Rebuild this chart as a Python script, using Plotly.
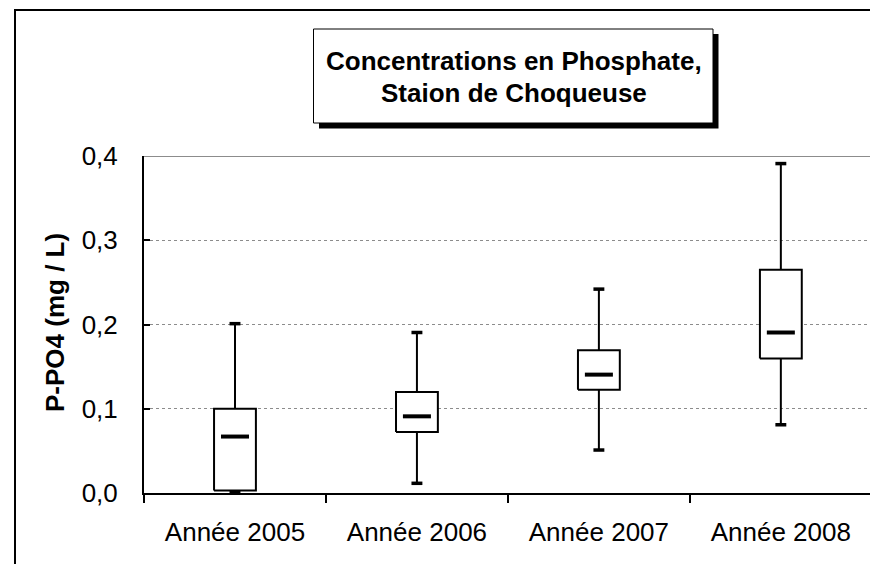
import plotly.graph_objects as go

# Phosphate concentrations (mg/L) per year, five-number summaries
years = ["Année 2005", "Année 2006", "Année 2007", "Année 2008"]
lower = [0.001, 0.0115, 0.051, 0.081]
q1 = [0.003, 0.0725, 0.1225, 0.1595]
median = [0.067, 0.091, 0.1405, 0.1905]
q3 = [0.100, 0.120, 0.1695, 0.265]
upper = [0.201, 0.1905, 0.242, 0.391]

y_ticks = [0.0, 0.1, 0.2, 0.3, 0.4]

W, H = 870, 564
ML, MR, MT, MB = 144, 0, 156, 71
FONT = "Liberation Sans, Arial, sans-serif"

BOX_HALF = 0.115
MED_HALF = 0.077
CAP_HALF = 0.03


def px_x(px):
    return (px - ML) / (W - ML - MR)


def px_y(py):
    return (H - MB - py) / (H - MT - MB)


box_x, box_y = [], []
wh_x, wh_y = [], []
cap_x, cap_y = [], []
med_x, med_y = [], []
for i in range(len(years)):
    box_x += [i - BOX_HALF, i + BOX_HALF, i + BOX_HALF, i - BOX_HALF, i - BOX_HALF, None]
    box_y += [q1[i], q1[i], q3[i], q3[i], q1[i], None]
    wh_x += [i, i, None, i, i, None]
    wh_y += [lower[i], q1[i], None, q3[i], upper[i], None]
    cap_x += [i - CAP_HALF, i + CAP_HALF, None, i - CAP_HALF, i + CAP_HALF, None]
    cap_y += [lower[i], lower[i], None, upper[i], upper[i], None]
    med_x += [i - MED_HALF, i + MED_HALF, None]
    med_y += [median[i], median[i], None]

fig = go.Figure()
fig.add_trace(go.Scatter(x=wh_x, y=wh_y, mode="lines",
                         line=dict(color="black", width=2), hoverinfo="skip"))
fig.add_trace(go.Scatter(x=cap_x, y=cap_y, mode="lines",
                         line=dict(color="black", width=3.5), hoverinfo="skip"))
fig.add_trace(go.Scatter(x=box_x, y=box_y, mode="lines", fill="toself",
                         fillcolor="white", line=dict(color="black", width=2),
                         hoverinfo="skip"))
fig.add_trace(go.Scatter(x=med_x, y=med_y, mode="lines",
                         line=dict(color="black", width=4), hoverinfo="skip"))

shapes = [
    # outer chart frame (only left and top edges fall inside the page)
    dict(type="rect", xref="paper", yref="paper",
         x0=px_x(15), x1=px_x(W + 20), y0=px_y(H + 20), y1=px_y(10),
         line=dict(color="black", width=2), fillcolor="rgba(0,0,0,0)", layer="below"),
    # top gridline drawn a bit heavier
    dict(type="line", xref="paper", yref="y", x0=0, x1=1,
         y0=y_ticks[-1], y1=y_ticks[-1], line=dict(color="#8c8c8c", width=2)),
    # title box shadow and box
    dict(type="rect", xref="paper", yref="paper",
         x0=px_x(319), x1=px_x(718.5), y0=px_y(128.5), y1=px_y(34),
         line=dict(width=0), fillcolor="black"),
    dict(type="rect", xref="paper", yref="paper",
         x0=px_x(313.5), x1=px_x(713), y0=px_y(123), y1=px_y(29),
         line=dict(color="black", width=1), fillcolor="white"),
]

annotations = [
    dict(text="<b>Concentrations en Phosphate,</b>", xref="paper", yref="paper",
         x=px_x(513.5), y=px_y(61), xanchor="center", yanchor="middle",
         showarrow=False, font=dict(family=FONT, size=26, color="black")),
    dict(text="<b>Staion de Choqueuse</b>", xref="paper", yref="paper",
         x=px_x(513.5), y=px_y(93), xanchor="center", yanchor="middle",
         showarrow=False, font=dict(family=FONT, size=26, color="black")),
    dict(text="<b>P-PO4 (mg / L)</b>", xref="paper", yref="paper",
         x=px_x(55), y=px_y(323), xanchor="center", yanchor="middle",
         textangle=-90, showarrow=False,
         font=dict(family=FONT, size=26, color="black")),
]

fig.update_layout(
    width=W, height=H,
    margin=dict(l=ML, r=MR, t=MT, b=MB, pad=0),
    paper_bgcolor="white", plot_bgcolor="white",
    showlegend=False,
    separators=", ",
    font=dict(family=FONT, size=26, color="black"),
    shapes=shapes,
    annotations=annotations,
    xaxis=dict(
        range=[-0.5, 3.49],
        tickmode="array", tickvals=list(range(len(years))), ticktext=years,
        ticks="", showgrid=False, zeroline=False,
        showline=True, linecolor="black", linewidth=2,
        ticklabelstandoff=15,
        minor=dict(tickmode="array",
                   tickvals=[i - 0.5 for i in range(len(years) + 1)],
                   ticks="outside", ticklen=8, tickwidth=2, tickcolor="black",
                   showgrid=False),
        tickfont=dict(family=FONT, size=26, color="black"),
        fixedrange=True,
    ),
    yaxis=dict(
        range=[y_ticks[0], y_ticks[-1]],
        tickmode="array", tickvals=y_ticks, tickformat=".1f",
        ticks="inside", ticklen=6, tickwidth=2, tickcolor="black",
        showgrid=True, gridcolor="#8c8c8c", gridwidth=1, griddash="dot",
        zeroline=False, showline=True, linecolor="black", linewidth=2,
        ticklabelstandoff=19,
        tickfont=dict(family=FONT, size=26, color="black"),
        fixedrange=True,
    ),
)

fig.write_html("out.html")
